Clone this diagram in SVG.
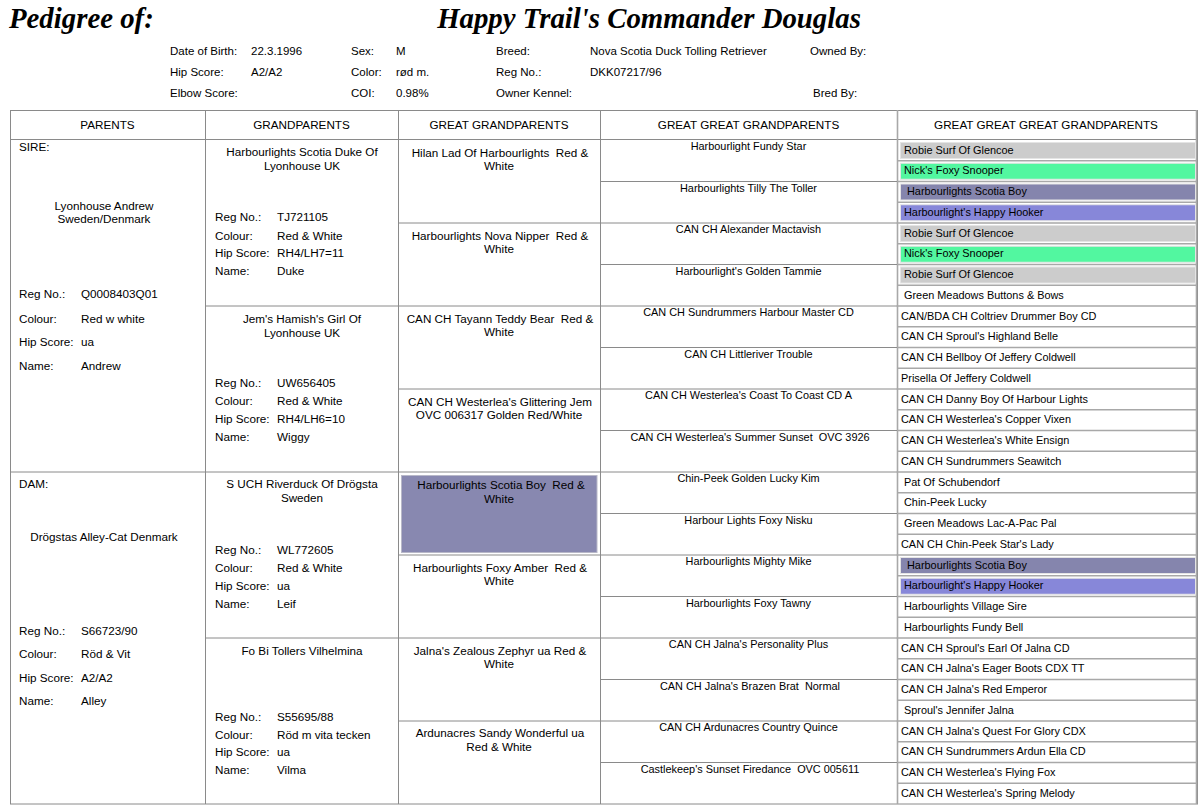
<svg xmlns="http://www.w3.org/2000/svg" width="1200" height="805" viewBox="0 0 1200 805">
<style>
text{font-family:"Liberation Sans",Arial,sans-serif;font-size:11.7px;fill:#000}
.t{font-family:"Liberation Serif","Times New Roman",serif;font-size:28.8px;font-weight:bold;font-style:italic}
.h{font-size:11.5px}
.s{font-size:10.9px}
.c{text-anchor:middle}
.ln{stroke:#8a8a8a;stroke-width:1;fill:none}
.l4{stroke:#a8a8a8;stroke-width:1.6;fill:none}
.gr{fill:#cccccc;stroke:#e4e4e4}
.gn{fill:#52f7a0;stroke:#e4e4e4}
.sl{fill:#8585ad;stroke:#e4e4e4}
.pw{fill:#8787d9;stroke:#e4e4e4}
</style>
<rect width="1200" height="805" fill="#fff"/>
<g id="title">
<text class="t" x="9" y="28">Pedigree of:</text>
<text class="t c" x="649" y="28">Happy Trail's Commander Douglas</text>
</g>
<g id="info">
<text class="h" x="170" y="54.5">Date of Birth:</text><text class="h" x="251" y="54.5">22.3.1996</text>
<text class="h" x="170" y="75.5">Hip Score:</text><text class="h" x="251" y="75.5">A2/A2</text>
<text class="h" x="170" y="96.5">Elbow Score:</text>
<text class="h" x="351" y="54.5">Sex:</text><text class="h" x="396" y="54.5">M</text>
<text class="h" x="351" y="75.5">Color:</text><text class="h" x="396" y="75.5">rød m.</text>
<text class="h" x="351" y="96.5">COI:</text><text class="h" x="396" y="96.5">0.98%</text>
<text class="h" x="496" y="54.5">Breed:</text><text class="h" x="590" y="54.5">Nova Scotia Duck Tolling Retriever</text>
<text class="h" x="496" y="75.5">Reg No.:</text><text class="h" x="590" y="75.5">DKK07217/96</text>
<text class="h" x="496" y="96.5">Owner Kennel:</text>
<text class="h" x="810" y="54.5">Owned By:</text>
<text class="h" x="813" y="96.5">Bred By:</text>
</g>
<g id="connectors">
<rect class="ln" x="10.5" y="110.5" width="1187" height="693.5"/>
<line class="ln" x1="10" y1="139.5" x2="1197" y2="139.5"/>
<line class="ln" x1="205.5" y1="110" x2="205.5" y2="804"/>
<line class="ln" x1="398.5" y1="110" x2="398.5" y2="804"/>
<line class="ln" x1="600.5" y1="110" x2="600.5" y2="804"/>
<line class="l4" x1="897.5" y1="110" x2="897.5" y2="804"/>
<line class="ln" x1="10" y1="472" x2="600" y2="472"/>
<line class="ln" x1="205" y1="306" x2="398" y2="306"/>
<line class="ln" x1="205" y1="638" x2="398" y2="638"/>
<line class="ln" x1="398" y1="223" x2="600" y2="223"/>
<line class="ln" x1="398" y1="389" x2="600" y2="389"/>
<line class="ln" x1="398" y1="555" x2="600" y2="555"/>
<line class="ln" x1="398" y1="721" x2="600" y2="721"/>
<line class="ln" x1="398" y1="306" x2="600" y2="306"/>
<line class="ln" x1="398" y1="638" x2="600" y2="638"/>
<path class="ln" d="M600 181.5H897M600 223H897M600 264.5H897M600 306H897M600 347.5H897M600 389H897M600 430.5H897M600 472H897M600 513.5H897M600 555H897M600 596.5H897M600 638H897M600 679.5H897M600 721H897M600 762.5H897"/>
<path class="l4" d="M897 160.75H1197M897 181.5H1197M897 202.25H1197M897 223H1197M897 243.75H1197M897 264.5H1197M897 285.25H1197M897 306H1197M897 326.75H1197M897 347.5H1197M897 368.25H1197M897 389H1197M897 409.75H1197M897 430.5H1197M897 451.25H1197M897 472H1197M897 492.75H1197M897 513.5H1197M897 534.25H1197M897 555H1197M897 575.75H1197M897 596.5H1197M897 617.25H1197M897 638H1197M897 658.75H1197M897 679.5H1197M897 700.25H1197M897 721H1197M897 741.75H1197M897 762.5H1197M897 783.25H1197"/>
<line class="l4" x1="1196.5" y1="110" x2="1196.5" y2="804"/>
</g>
<g id="headers">
<text class="c" x="107.5" y="129">PARENTS</text>
<text class="c" x="301.5" y="129">GRANDPARENTS</text>
<text class="c" x="499" y="129">GREAT GRANDPARENTS</text>
<text class="c" x="748.5" y="129">GREAT GREAT GRANDPARENTS</text>
<text class="c" x="1046" y="129">GREAT GREAT GREAT GRANDPARENTS</text>
</g>
<g id="sire">
<text x="19" y="151">SIRE:</text>
<text class="c" x="104" y="210">Lyonhouse Andrew</text>
<text class="c" x="104" y="223">Sweden/Denmark</text>
<text x="19" y="298">Reg No.:</text><text x="81" y="298">Q0008403Q01</text>
<text x="19" y="323">Colour:</text><text x="81" y="323">Red w white</text>
<text x="19" y="346">Hip Score:</text><text x="81" y="346">ua</text>
<text x="19" y="370">Name:</text><text x="81" y="370">Andrew</text>
</g>
<g id="dam">
<text x="19" y="488">DAM:</text>
<text class="c" x="104" y="541">Drögstas Alley-Cat Denmark</text>
<text x="19" y="635">Reg No.:</text><text x="81" y="635">S66723/90</text>
<text x="19" y="658">Colour:</text><text x="81" y="658">Röd &amp; Vit</text>
<text x="19" y="682">Hip Score:</text><text x="81" y="682">A2/A2</text>
<text x="19" y="705">Name:</text><text x="81" y="705">Alley</text>
</g>
<g id="gp1">
<text class="c" x="302" y="156">Harbourlights Scotia Duke Of</text>
<text class="c" x="302" y="170">Lyonhouse UK</text>
<text x="215" y="221">Reg No.:</text><text x="277" y="221">TJ721105</text>
<text x="215" y="240">Colour:</text><text x="277" y="240">Red &amp; White</text>
<text x="215" y="257">Hip Score:</text><text x="277" y="257">RH4/LH7=11</text>
<text x="215" y="275">Name:</text><text x="277" y="275">Duke</text>
</g>
<g id="gp2">
<text class="c" x="302" y="323">Jem's Hamish's Girl Of</text>
<text class="c" x="302" y="337">Lyonhouse UK</text>
<text x="215" y="387">Reg No.:</text><text x="277" y="387">UW656405</text>
<text x="215" y="405">Colour:</text><text x="277" y="405">Red &amp; White</text>
<text x="215" y="423">Hip Score:</text><text x="277" y="423">RH4/LH6=10</text>
<text x="215" y="441">Name:</text><text x="277" y="441">Wiggy</text>
</g>
<g id="gp3">
<text class="c" x="302" y="488">S UCH Riverduck Of Drögsta</text>
<text class="c" x="302" y="502">Sweden</text>
<text x="215" y="554">Reg No.:</text><text x="277" y="554">WL772605</text>
<text x="215" y="572">Colour:</text><text x="277" y="572">Red &amp; White</text>
<text x="215" y="590">Hip Score:</text><text x="277" y="590">ua</text>
<text x="215" y="608">Name:</text><text x="277" y="608">Leif</text>
</g>
<g id="gp4">
<text class="c" x="302" y="655">Fo Bi Tollers Vilhelmina</text>
<text x="215" y="721">Reg No.:</text><text x="277" y="721">S55695/88</text>
<text x="215" y="739">Colour:</text><text x="277" y="739">Röd m vita tecken</text>
<text x="215" y="756">Hip Score:</text><text x="277" y="756">ua</text>
<text x="215" y="774">Name:</text><text x="277" y="774">Vilma</text>
</g>
<g id="gg1"><text class="c" x="500" y="157" xml:space="preserve">Hilan Lad Of Harbourlights  Red &amp;</text><text class="c" x="499" y="170">White</text></g>
<g id="gg2"><text class="c" x="500" y="240" xml:space="preserve">Harbourlights Nova Nipper  Red &amp;</text><text class="c" x="499" y="253">White</text></g>
<g id="gg3"><text class="c" x="500" y="323" xml:space="preserve">CAN CH Tayann Teddy Bear  Red &amp;</text><text class="c" x="499" y="336">White</text></g>
<g id="gg4"><text class="c" x="500" y="406">CAN CH Westerlea's Glittering Jem</text><text class="c" x="499" y="419">OVC 006317 Golden Red/White</text></g>
<g id="gg5"><rect x="401.5" y="475.5" width="195.5" height="77" fill="#8888b0" stroke="#b8b8c8"/><text class="c" x="501" y="489" xml:space="preserve">Harbourlights Scotia Boy  Red &amp;</text><text class="c" x="499" y="503">White</text></g>
<g id="gg6"><text class="c" x="500" y="572" xml:space="preserve">Harbourlights Foxy Amber  Red &amp;</text><text class="c" x="499" y="585">White</text></g>
<g id="gg7"><text class="c" x="500" y="655">Jalna's Zealous Zephyr ua Red &amp;</text><text class="c" x="499" y="668">White</text></g>
<g id="gg8"><text class="c" x="500" y="737">Ardunacres Sandy Wonderful ua</text><text class="c" x="499" y="751">Red &amp; White</text></g>
<g id="ggg">
<text class="c s" x="748.5" y="150">Harbourlight Fundy Star</text>
<text class="c s" x="748.5" y="191.5">Harbourlights Tilly The Toller</text>
<text class="c s" x="748.5" y="233">CAN CH Alexander Mactavish</text>
<text class="c s" x="748.5" y="274.5">Harbourlight's Golden Tammie</text>
<text class="c s" x="748.5" y="316">CAN CH Sundrummers Harbour Master CD</text>
<text class="c s" x="748.5" y="357.5">CAN CH Littleriver Trouble</text>
<text class="c s" x="748.5" y="399">CAN CH Westerlea's Coast To Coast CD A</text>
<text class="c s" x="750" y="440.5" xml:space="preserve">CAN CH Westerlea's Summer Sunset  OVC 3926</text>
<text class="c s" x="748.5" y="482">Chin-Peek Golden Lucky Kim</text>
<text class="c s" x="748.5" y="523.5">Harbour Lights Foxy Nisku</text>
<text class="c s" x="748.5" y="565">Harbourlights Mighty Mike</text>
<text class="c s" x="748.5" y="606.5">Harbourlights Foxy Tawny</text>
<text class="c s" x="748.5" y="648">CAN CH Jalna's Personality Plus</text>
<text class="c s" x="750" y="689.5" xml:space="preserve">CAN CH Jalna's Brazen Brat  Normal</text>
<text class="c s" x="748.5" y="731">CAN CH Ardunacres Country Quince</text>
<text class="c s" x="750" y="772.5" xml:space="preserve">Castlekeep's Sunset Firedance  OVC 005611</text>
</g>
<g id="gggg">
<rect class="gr" x="900.5" y="142.5" width="295" height="16"/>
<rect class="gn" x="900.5" y="163.25" width="295" height="16"/>
<rect class="sl" x="900.5" y="184" width="295" height="16"/>
<rect class="pw" x="900.5" y="204.75" width="295" height="16"/>
<rect class="gr" x="900.5" y="225.5" width="295" height="16"/>
<rect class="gn" x="900.5" y="246.25" width="295" height="16"/>
<rect class="gr" x="900.5" y="267" width="295" height="16"/>
<rect class="sl" x="900.5" y="557.5" width="295" height="16"/>
<rect class="pw" x="900.5" y="578.25" width="295" height="16"/>
<text class="s" x="904" y="153.5">Robie Surf Of Glencoe</text>
<text class="s" x="904" y="174.25">Nick's Foxy Snooper</text>
<text class="s" x="907" y="195">Harbourlights Scotia Boy</text>
<text class="s" x="904" y="215.75">Harbourlight's Happy Hooker</text>
<text class="s" x="904" y="236.5">Robie Surf Of Glencoe</text>
<text class="s" x="904" y="257.25">Nick's Foxy Snooper</text>
<text class="s" x="904" y="278">Robie Surf Of Glencoe</text>
<text class="s" x="904" y="298.75">Green Meadows Buttons &amp; Bows</text>
<text class="s" x="901" y="319.5">CAN/BDA CH Coltriev Drummer Boy CD</text>
<text class="s" x="901" y="340.25">CAN CH Sproul's Highland Belle</text>
<text class="s" x="901" y="361">CAN CH Bellboy Of Jeffery Coldwell</text>
<text class="s" x="901" y="381.75">Prisella Of Jeffery Coldwell</text>
<text class="s" x="901" y="402.5">CAN CH Danny Boy Of Harbour Lights</text>
<text class="s" x="901" y="423.25">CAN CH Westerlea's Copper Vixen</text>
<text class="s" x="901" y="444">CAN CH Westerlea's White Ensign</text>
<text class="s" x="901" y="464.75">CAN CH Sundrummers Seawitch</text>
<text class="s" x="904" y="485.5">Pat Of Schubendorf</text>
<text class="s" x="904" y="506.25">Chin-Peek Lucky</text>
<text class="s" x="904" y="527">Green Meadows Lac-A-Pac Pal</text>
<text class="s" x="901" y="547.75">CAN CH Chin-Peek Star's Lady</text>
<text class="s" x="907" y="568.5">Harbourlights Scotia Boy</text>
<text class="s" x="904" y="589.25">Harbourlight's Happy Hooker</text>
<text class="s" x="904" y="610">Harbourlights Village Sire</text>
<text class="s" x="904" y="630.75">Harbourlights Fundy Bell</text>
<text class="s" x="901" y="651.5">CAN CH Sproul's Earl Of Jalna CD</text>
<text class="s" x="901" y="672.25">CAN CH Jalna's Eager Boots CDX TT</text>
<text class="s" x="901" y="693">CAN CH Jalna's Red Emperor</text>
<text class="s" x="904" y="713.75">Sproul's Jennifer Jalna</text>
<text class="s" x="901" y="734.5">CAN CH Jalna's Quest For Glory CDX</text>
<text class="s" x="901" y="755.25">CAN CH Sundrummers Ardun Ella CD</text>
<text class="s" x="901" y="776">CAN CH Westerlea's Flying Fox</text>
<text class="s" x="901" y="796.75">CAN CH Westerlea's Spring Melody</text>
</g>
</svg>
